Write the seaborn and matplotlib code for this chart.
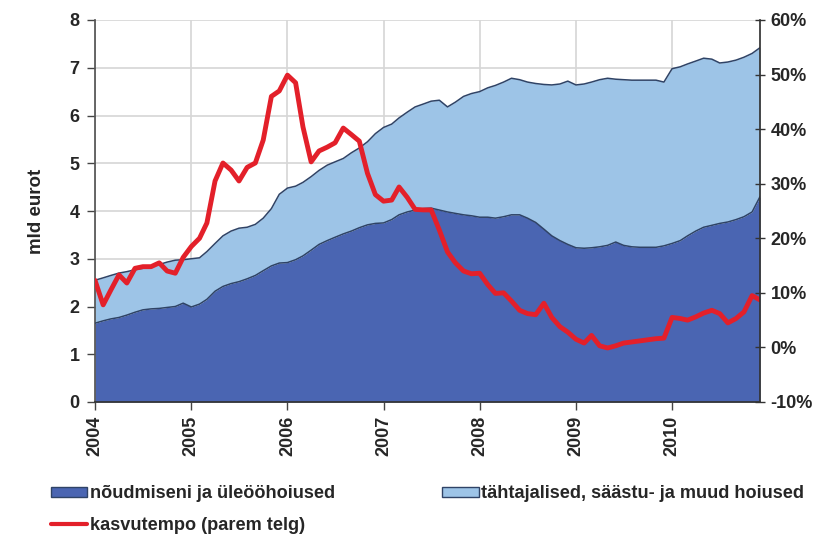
import pandas as pd
import seaborn as sns
import matplotlib.pyplot as plt
import matplotlib.dates as mdates
from matplotlib.ticker import FuncFormatter
from matplotlib.patches import Patch
from matplotlib.lines import Line2D

# monthly values, Jan 2004 - Dec 2010
months = pd.date_range("2004-01-01", "2010-12-01", freq="MS")

# nõudmiseni ja üleööhoiused (mld eurot)
demand = [1.65, 1.70, 1.74, 1.77, 1.82, 1.88, 1.93, 1.95, 1.96, 1.98, 2.00, 2.07,
          1.99, 2.05, 2.15, 2.32, 2.42, 2.48, 2.52, 2.58, 2.65, 2.75, 2.85, 2.91,
          2.92, 2.98, 3.06, 3.18, 3.30, 3.38, 3.45, 3.52, 3.58, 3.65, 3.71, 3.74,
          3.75, 3.82, 3.92, 3.98, 4.02, 4.05, 4.06, 4.02, 3.98, 3.95, 3.92, 3.90,
          3.87, 3.87, 3.85, 3.88, 3.92, 3.92, 3.85, 3.76, 3.62, 3.48, 3.38, 3.30,
          3.23, 3.22, 3.23, 3.25, 3.28, 3.35, 3.28, 3.25, 3.24, 3.24, 3.24, 3.27,
          3.32, 3.38, 3.48, 3.58, 3.66, 3.70, 3.74, 3.77, 3.82, 3.88, 3.98, 4.30]

# kokku koos tähtajaliste, säästu- ja muude hoiustega (mld eurot)
total = [2.55, 2.60, 2.65, 2.70, 2.73, 2.77, 2.80, 2.85, 2.88, 2.93, 2.97, 2.98,
         3.00, 3.02, 3.15, 3.32, 3.48, 3.58, 3.64, 3.66, 3.72, 3.85, 4.05, 4.35,
         4.48, 4.52, 4.60, 4.72, 4.85, 4.96, 5.03, 5.10, 5.22, 5.32, 5.45, 5.62,
         5.75, 5.82, 5.95, 6.07, 6.18, 6.24, 6.30, 6.32, 6.18, 6.28, 6.40, 6.46,
         6.50, 6.58, 6.63, 6.70, 6.78, 6.75, 6.70, 6.67, 6.65, 6.64, 6.66, 6.72,
         6.64, 6.66, 6.70, 6.75, 6.78, 6.76, 6.75, 6.74, 6.74, 6.74, 6.74, 6.70,
         6.98, 7.02, 7.08, 7.14, 7.20, 7.18, 7.10, 7.12, 7.16, 7.22, 7.30, 7.42]

# kasvutempo (%), parem telg
growth = [12.3, 7.8, 10.5, 13.3, 11.8, 14.5, 14.8, 14.8, 15.5, 14.0, 13.6, 16.5,
          18.5, 20.0, 22.8, 30.5, 33.8, 32.5, 30.5, 33.0, 33.8, 38.0, 46.0, 47.0,
          49.9, 48.5, 40.4, 34.0, 36.0, 36.7, 37.5, 40.2, 39.0, 37.8, 31.9, 28.0,
          26.8, 27.0, 29.4, 27.5, 25.3, 25.2, 25.2, 21.5, 17.5, 15.5, 14.0, 13.5,
          13.6, 11.5, 9.9, 10.0, 8.5, 6.8, 6.2, 6.0, 8.1, 5.5, 3.8, 2.8,
          1.5, 0.8, 2.2, 0.3, -0.1, 0.3, 0.8, 1.0, 1.2, 1.4, 1.6, 1.7,
          5.5, 5.3, 5.0, 5.6, 6.3, 6.8, 6.2, 4.5, 5.3, 6.5, 9.5, 8.7]

labels = ["nõudmiseni ja üleööhoiused",
          "tähtajalised, säästu- ja muud hoiused",
          "kasvutempo (parem telg)"]

dark = "#4a65b2"
light = "#9dc4e7"
edge = "#2f4366"
red = "#e3202a"

df = pd.DataFrame({"date": months, "demand": demand, "total": total, "growth": growth})

sns.set_theme(style="white")
plt.rcParams["font.family"] = ["Liberation Sans", "DejaVu Sans"]
plt.rcParams["font.weight"] = "bold"

fig = plt.figure(figsize=(8.22, 5.4), dpi=100)
ax = fig.add_axes([95/822, 1 - 402/540, 665/822, 382/540])

ax.fill_between(df["date"], 0, df["demand"], color=dark, lw=0, zorder=2)
ax.fill_between(df["date"], df["demand"], df["total"], color=light, lw=0, zorder=2)
sns.lineplot(data=df, x="date", y="demand", color=edge, lw=1.1, ax=ax, zorder=3)
sns.lineplot(data=df, x="date", y="total", color=edge, lw=1.1, ax=ax, zorder=3)

ax.set_xlim(months[0], months[-1])
ax.set_ylim(0, 8)
ax.set_yticks(range(9))
ax.set_xticks(pd.date_range("2004-01-01", "2010-01-01", freq="YS"))
ax.xaxis.set_major_formatter(mdates.DateFormatter("%Y"))
ax.grid(True, color="#d6d6d6", lw=1.2)
ax.set_axisbelow(True)
ax.set_xlabel("")
ax.set_ylabel("mld eurot", fontsize=13.5, fontweight="bold", labelpad=18)
ax.tick_params(axis="x", rotation=90, labelsize=13, length=6, width=1, color="#444",
               bottom=True, pad=4)
ax.tick_params(axis="y", labelsize=13, length=6, width=1, color="#444", left=True, pad=5)
for s in ["top", "right"]:
    ax.spines[s].set_visible(False)
ax.spines["left"].set_color("#555")
ax.spines["bottom"].set_color("#333")
ax.spines["bottom"].set_zorder(4)

ax2 = ax.twinx()
sns.lineplot(data=df, x="date", y="growth", color=red, lw=3.5, ax=ax2,
             solid_joinstyle="round", solid_capstyle="round")
ax2.set_ylim(-10, 60)
ax2.set_yticks(range(-10, 61, 10))
ax2.yaxis.set_major_formatter(FuncFormatter(lambda v, p: f"{v:.0f}%"))
ax2.set_ylabel("")
ax2.set_xlabel("")
ax2.tick_params(axis="y", labelsize=13, length=7, width=1, color="#333",
                direction="inout", right=True, pad=4)
ax2.grid(False)
for s in ["top", "left", "bottom"]:
    ax2.spines[s].set_visible(False)
ax2.spines["right"].set_color("#333")

handles = [Patch(facecolor=dark, edgecolor=edge, lw=1),
           Line2D([0], [0], color=red, lw=3),
           Patch(facecolor=light, edgecolor=edge, lw=1)]
fig.legend(handles, [labels[0], labels[2], labels[1]], ncol=2, loc="upper left",
           bbox_to_anchor=(0.044, 0.128), frameon=False, fontsize=13.1,
           handlelength=2.0, handleheight=0.5, handletextpad=0.15,
           columnspacing=5.9, labelspacing=0.8, borderpad=0.3)

fig.savefig("out.png", dpi=100)
